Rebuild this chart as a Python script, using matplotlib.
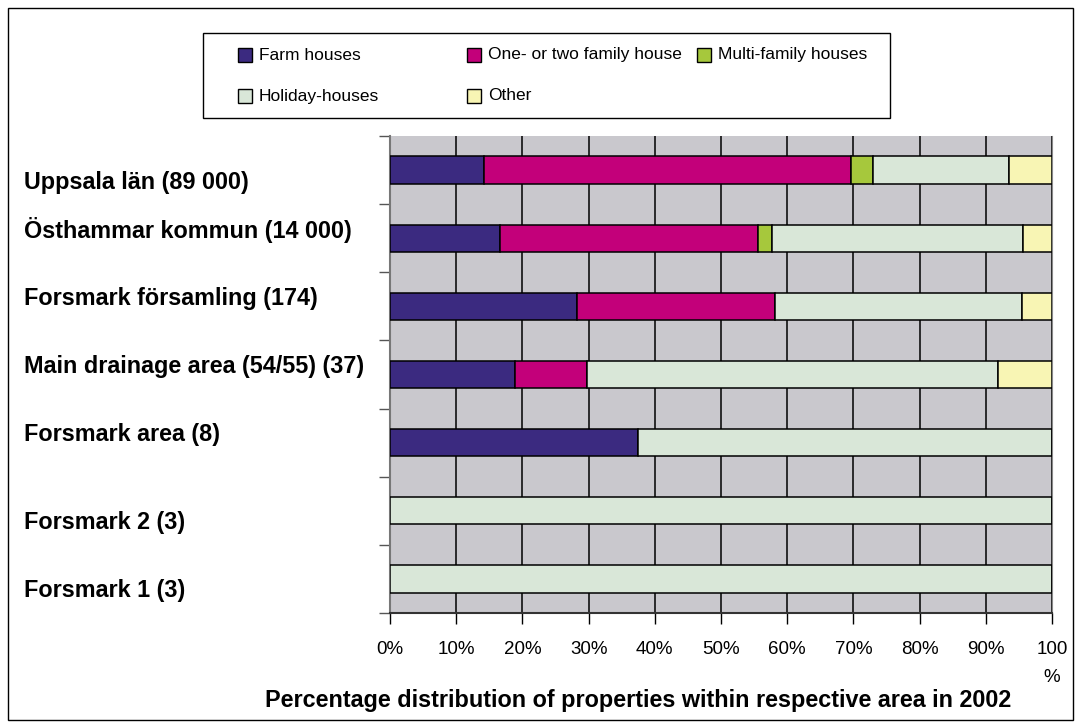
import matplotlib

matplotlib.use("Agg")
import matplotlib.pyplot as plt
from matplotlib.patches import Rectangle
import numpy as np

plt.rcParams["font.family"] = ["Liberation Sans", "DejaVu Sans"]

# data (percent of properties)
areas = [
    "Uppsala län (89 000)",
    "Östhammar kommun (14 000)",
    "Forsmark församling (174)",
    "Main drainage area (54/55) (37)",
    "Forsmark area (8)",
    "Forsmark 2 (3)",
    "Forsmark 1 (3)",
]
series_names = ["Farm houses", "One- or two family house", "Multi-family houses",
                "Holiday-houses", "Other"]
farm = [14.2, 16.6, 28.2, 18.9, 37.5, 0.0, 0.0]
one_two = [55.5, 39.0, 29.9, 10.8, 0.0, 0.0, 0.0]
multi = [3.3, 2.1, 0.0, 0.0, 0.0, 0.0, 0.0]
holiday = [20.5, 37.9, 37.4, 62.2, 62.5, 100.0, 100.0]
other = [6.5, 4.4, 4.5, 8.1, 0.0, 0.0, 0.0]
xtick_labels = ["0%", "10%", "20%", "30%", "40%", "50%", "60%", "70%", "80%",
                "90%", "100\n%"]
title = "Percentage distribution of properties within respective area in 2002"

colors = ["#3b2a80", "#c3007a", "#a6c83c", "#d9e7d8", "#f8f5b4"]

W, H = 1081, 728
fig = plt.figure(figsize=(W / 100, H / 100), dpi=100)


def fx(x):
    return x / W


def fy(y):
    return 1 - y / H


ax = fig.add_axes([fx(390), fy(613), fx(1052) - fx(390), fy(136) - fy(613)])
ax.set_facecolor("#c9c8cd")

y = np.arange(len(areas))
left = np.zeros(len(areas))
for vals, name, col in zip([farm, one_two, multi, holiday, other], series_names, colors):
    vals = np.array(vals)
    ax.barh(y, vals, left=left, height=0.4, color=col, edgecolor="black",
            linewidth=1.1, zorder=3, label=name)
    left += vals

ax.set_xlim(0, 100)
ax.set_ylim(len(areas) - 0.5, -0.5)
ax.set_xticks(np.arange(0, 101, 10))
ax.set_xticklabels(xtick_labels, fontsize=13.5, linespacing=1.9, va="top")
ax.set_yticks(np.arange(len(areas) + 1) - 0.5)
ax.set_yticklabels([])
ax.xaxis.grid(True, color="black", linewidth=1.1, zorder=1)
ax.set_axisbelow(True)
ax.tick_params(axis="x", direction="out", length=8, width=1, color="black", pad=12)
ax.tick_params(axis="y", direction="out", length=8, width=1, color="#555555")
ax.spines["top"].set_visible(False)
ax.spines["right"].set_color("#888888")
ax.spines["left"].set_color("#777777")
ax.spines["left"].set_linewidth(1.5)
ax.spines["bottom"].set_color("#333333")
ax.spines["bottom"].set_linewidth(1.5)

# category labels sit where the original text boxes were
label_y = [182, 230, 299, 367, 435, 522, 590]
for name, ly in zip(areas, label_y):
    fig.text(fx(24), fy(ly), name, ha="left", va="center",
             fontsize=16.8, fontweight="bold")

fig.text(fx(638), fy(700), title, ha="center", va="center", fontsize=16.8,
         fontweight="bold")

# legend box (equal column widths, as Excel lays it out)
fig.add_artist(Rectangle((fx(203), fy(118)), fx(890) - fx(203), fy(33) - fy(118),
                         transform=fig.transFigure, facecolor="white",
                         edgecolor="black", linewidth=1))
leg_pos = [(238, 55), (467, 55), (697, 55), (238, 96), (467, 96)]
for (lx, ly), name, col in zip(leg_pos, series_names, colors):
    fig.add_artist(Rectangle((fx(lx), fy(ly + 7)), fx(14), 14 / H,
                             transform=fig.transFigure, facecolor=col,
                             edgecolor="black", linewidth=1))
    fig.text(fx(lx + 21), fy(ly), name, ha="left", va="center", fontsize=12.5)

# outer frame
fig.add_artist(Rectangle((fx(8), fy(720)), fx(1073) - fx(8), fy(8) - fy(720),
                         transform=fig.transFigure, facecolor="none",
                         edgecolor="black", linewidth=1))

fig.savefig("out.png", dpi=100)
